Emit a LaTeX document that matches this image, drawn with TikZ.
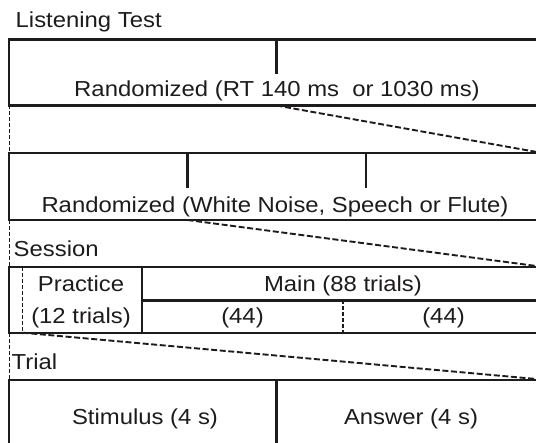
\documentclass[tikz,border=0pt]{standalone}
\usepackage{fontspec}
\setmainfont[FakeStretch=1.1]{Liberation Sans}
\definecolor{ink}{RGB}{30,27,28}
\begin{document}
\begin{tikzpicture}[x=1pt,y=-1pt,
  frame/.style={draw=ink, line width=2.3pt},
  zoomline/.style={draw=ink, line width=1.9pt, dash pattern=on 6pt off 2.6pt},
  gapline/.style={draw=ink, line width=1.4pt, dash pattern=on 4pt off 2pt},
  lbl/.style={anchor=base, inner sep=0pt, text=ink, font=\fontsize{21.7}{24}\selectfont},
  head/.style={lbl, anchor=base west}]
\useasboundingbox (0,0) rectangle (536,443);
\clip (0,0) rectangle (536,443);

% corner points of the four levels (the frames run on past the right edge)
\coordinate (b1tl) at (9.3,39.5);   \coordinate (b1tr) at (544,39.5);
\coordinate (b1bl) at (9.3,105.5);  \coordinate (b1br) at (544,105.5);
\coordinate (b1m)  at (276.5,105.5);
\coordinate (b2tl) at (9.3,153.3);  \coordinate (b2tr) at (544,153.3);
\coordinate (b2bl) at (9.3,220);    \coordinate (b2br) at (544,220);
\coordinate (b2m)  at (187.5,220);
\coordinate (b3tl) at (9.3,267);    \coordinate (b3tr) at (544,267);
\coordinate (b3bl) at (9.3,332.7);  \coordinate (b3br) at (544,332.7);
\coordinate (b3p)  at (22.7,332.7);
\coordinate (b4tl) at (9.3,379.7);  \coordinate (b4tr) at (544,379.7);
\coordinate (b4bl) at (9.3,446);

% level 1: reverberation time
\draw[frame] (b1tr) -- (b1tl) -- (b1bl) -- (b1br);
\draw[frame] (276.5,39.5) -- (276.5,74);
% level 2: stimulus type
\draw[frame] (b2tr) -- (b2tl) -- (b2bl) -- (b2br);
\draw[frame] (187.5,153.3) -- (187.5,187.7);
\draw[frame] (365.7,153.3) -- (365.7,187.7);
% level 3: session
\draw[frame] (b3tr) -- (b3tl) -- (b3bl) -- (b3br);
\draw[frame] (142,267) -- (142,332.7);
\draw[frame] (142,300.5) -- (544,300.5);
\draw[gapline] (343,300.5) -- (343,332.7);
\draw[gapline] (22.7,267) -- (b3p);
% level 4: trial
\draw[frame] (b4tr) -- (b4tl) -- (b4bl);
\draw[frame] (276.5,379.7) -- (276.5,446);

% dashed left edges between the levels
\draw[gapline] (b1bl) -- (b2tl);
\draw[gapline] (b2bl) -- (b3tl);
\draw[gapline] (b3bl) -- (b4tl);

% zoom-in lines from one level to the next
\draw[zoomline] (b1m) -- (b2tr);
\draw[zoomline] (b2m) -- (b3tr);
\draw[zoomline] (b3p) -- (b4tr);

% texts
\node[head] (title) at (15.5,27.7) {Listening Test};
\node[lbl] (rt) at (277,96.7) {Randomized (RT 140 ms\ \ or 1030 ms)};
\node[lbl] (noise) at (275,212.7) {Randomized (White Noise, Speech or Flute)};
\node[head] (session) at (13.5,256.7) {Session};
\node[lbl] (practice) at (81,291.7) {Practice};
\node[lbl] (ptrials) at (81,323.3) {(12 trials)};
\node[lbl] (main) at (343,291.7) {Main (88 trials)};
\node[lbl] (halfa) at (242.5,323.3) {(44)};
\node[lbl] (halfb) at (443.5,323.3) {(44)};
\node[head] (trial) at (11.5,370) {Trial};
\node[lbl] (stim) at (145,425) {Stimulus (4 s)};
\node[lbl] (answer) at (411,425) {Answer (4 s)};
\end{tikzpicture}
\end{document}
